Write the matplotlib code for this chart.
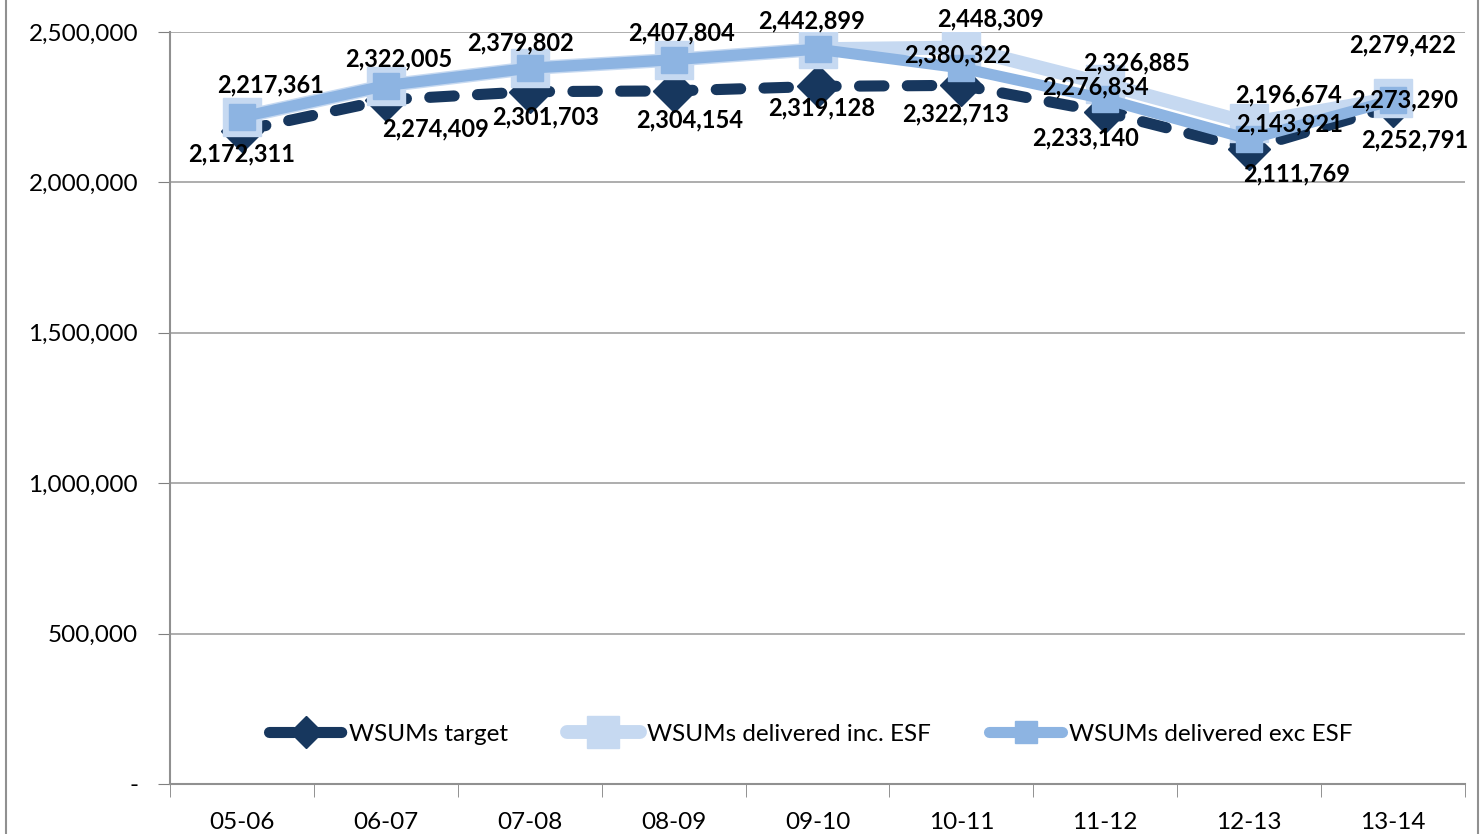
import matplotlib.pyplot as plt
from matplotlib.lines import Line2D
import numpy as np

plt.rcParams['font.family'] = ['Lato', 'DejaVu Sans']

years = ["05-06", "06-07", "07-08", "08-09", "09-10", "10-11", "11-12", "12-13", "13-14"]
target = [2172311, 2274409, 2301703, 2304154, 2319128, 2322713, 2233140, 2111769, 2252791]
inc_esf = [2217361, 2322005, 2379802, 2407804, 2442899, 2448309, 2326885, 2196674, 2279422]
exc_esf = [2217361, 2322005, 2379802, 2407804, 2442899, 2380322, 2276834, 2143921, 2273290]

# label offsets in pixels (dx, dy), None = no label
target_off = [(0, -23), (50, -29), (16, -25), (16, -29), (4, -22), (-6, -29), (-20, -26), (47, -25), (22, -34)]
inc_off = [None, None, None, None, None, (29, 29), (31, 21), (39, 28), (10, 53)]
exc_off = [(29, 32), (13, 27), (-9, 25), (8, 27), (-6, 28), (-4, 13), (-10, 12), (40, 15), (12, 0)]

navy = "#17375E"
light = "#C6D9F1"
mid = "#8DB4E2"

fig = plt.figure(figsize=(14.81, 8.34), dpi=100)
ax = fig.add_axes([170/1481, 50/834, 1295/1481, 752/834])
x = np.arange(len(years))

ax.plot(x, target, color=navy, lw=8, ls=(0, (2.2, 2.1)), dash_capstyle='round',
        marker='D', ms=21, mec=navy, mfc=navy, label="WSUMs target", zorder=3)
ax.plot(x, inc_esf, color=light, lw=10, solid_capstyle='round',
        marker='s', ms=28, mec=light, mfc=light, label="WSUMs delivered inc. ESF", zorder=4)
ax.plot(x, exc_esf, color=mid, lw=8, solid_capstyle='round',
        marker='s', ms=19, mec=mid, mfc=mid, label="WSUMs delivered exc ESF", zorder=5)

lab_kw = dict(textcoords='offset pixels', ha='center', va='center',
              fontsize=17, fontweight='bold', color='black', zorder=6)
for vals, offs in [(target, target_off), (inc_esf, inc_off), (exc_esf, exc_off)]:
    for i, v in enumerate(vals):
        if offs[i] is None:
            continue
        ax.annotate(f"{v:,}", (i, v), xytext=offs[i], **lab_kw)

ax.set_xlim(-0.5, len(years) - 0.5)
ax.set_ylim(0, 2500000)
ax.set_yticks(np.arange(0, 2500001, 500000))
ax.set_yticklabels(["-"] + [f"{v:,}" for v in range(500000, 2500001, 500000)])
ax.set_xticks(x)
ax.set_xticklabels(years)
ax.set_xticks(np.arange(-0.5, len(years), 1), minor=True)
ax.tick_params(axis='x', which='major', length=0, pad=20, labelsize=17.5)
ax.tick_params(axis='x', which='minor', length=9, color='#808080')
ax.tick_params(axis='y', length=9, color='#808080', pad=14, labelsize=17.5)
ax.grid(axis='y', color='#A0A0A0', lw=1.2)
ax.set_axisbelow(True)
for s in ['top', 'right']:
    ax.spines[s].set_visible(False)
for s in ['left', 'bottom']:
    ax.spines[s].set_color('#909090')
    ax.spines[s].set_linewidth(1.5)

ax.legend(loc='lower center', bbox_to_anchor=(0.495, 0.023), ncol=3, frameon=False,
          fontsize=17.5, handlelength=3, columnspacing=2.4, handletextpad=0.3,
          markerscale=0.8)

# chart frame edges
fig.add_artist(Line2D([6/1481, 6/1481], [0, 1], color='#909090', lw=1.5))
fig.add_artist(Line2D([1478/1481, 1478/1481], [0, 1], color='#909090', lw=1.5))

fig.savefig("out.png", dpi=100)
